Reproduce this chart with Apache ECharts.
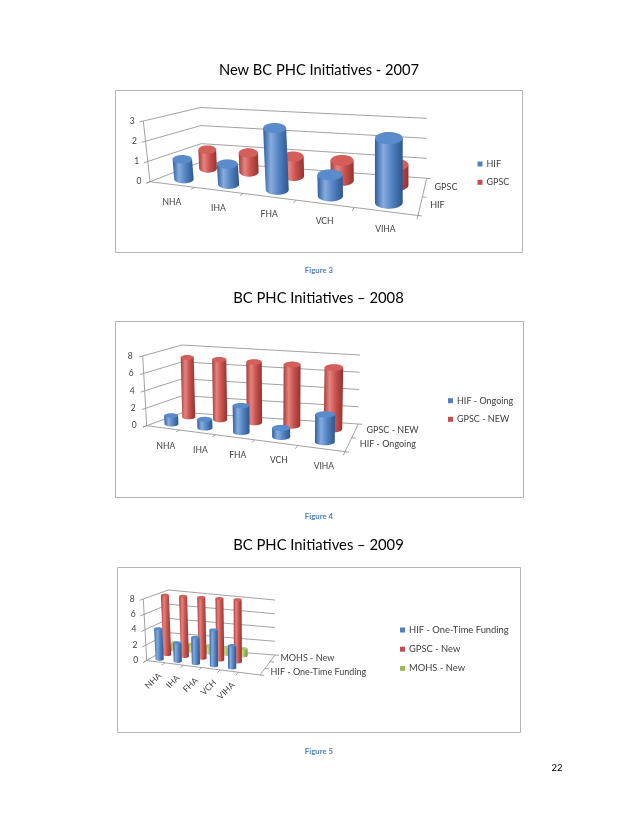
<!DOCTYPE html>
<html>
<head>
<meta charset="utf-8">
<script src="https://cdn.jsdelivr.net/npm/echarts@6/dist/echarts.min.js"></script>
<style>
  html, body { margin: 0; padding: 0; background: #fff; }
  #page { width: 638px; height: 826px; }
</style>
</head>
<body>
<div id="page"></div>
<script>
// ---- data ----
const regions = ['NHA', 'IHA', 'FHA', 'VCH', 'VIHA'];

const ticks2007 = [0, 1, 2, 3];
const hif2007 = [1, 1, 3, 1, 3];
const gpsc2007 = [1, 1, 1, 1, 1];

const ticks2008 = [0, 2, 4, 6, 8];
const hifOngoing2008 = [1, 1, 3, 1, 3];
const gpscNew2008 = [7, 7, 7, 7, 7];

const ticks2009 = [0, 2, 4, 6, 8];
const hifOneTime2009 = [4, 2.4, 3.3, 4.4, 2.7];
const gpscNew2009 = [8, 8, 8, 8, 8];
const mohsNew2009 = [1, 1, 1, 1, 1];

// ---- look ----
const FONT = 'Lato, "Open Sans", sans-serif';
const TEXT = '#404040';
const GRID = '#8a8a8a';
const tones = {
  blue:  { base: '#4F81BD', stops: ['#2f5e9a', '#86acdf', '#5584c2', '#2b5690'], top: '#5a8ccb' },
  red:   { base: '#C0504D', stops: ['#a23d3a', '#e6837f', '#c9534f', '#94312e'], top: '#d35e5a' },
  green: { base: '#9BBB59', stops: ['#7b9a40', '#c3dc8f', '#9ebf5c', '#6f8c37'], top: '#abc96f' }
};

// perspective frame of each plot: floor corners (F = front, B = back) and the matching top corners
const frames = [
  { FL: [150, 181.7], FLt: [143.3, 121], FR: [418, 215.5], FRt: [419, 148.5],
    BL: [201.7, 161.7], BLt: [200.5, 107.5], BR: [426.7, 178.3], BRt: [426.7, 118.3],
    warp: 0.8, span: 1, diam: 0.45, ratioF: 0.42, ratioB: 0.5,
    tickGap: 8.5, catOff: [0, 18], depthOff: [10, -1], rotate: false,
    grid: { left: 150, top: 100, width: 270, height: 80 } },
  { FL: [146.7, 425.7], FLt: [142.7, 356], FR: [345, 451.7], FRt: [346, 376],
    BL: [183, 412.5], BLt: [181.7, 345], BR: [358.3, 424], BRt: [360, 355],
    warp: 0.8, span: 1, diam: 0.43, ratioF: 0.31, ratioB: 0.38,
    tickGap: 10, catOff: [3, 18], depthOff: [11.5, -1], rotate: false,
    grid: { left: 146, top: 340, width: 200, height: 80 } },
  { FL: [146.7, 660.5], FLt: [143.3, 599], FR: [260, 675], FRt: [261, 603],
    BL: [170, 647], BLt: [168.3, 590], BR: [275, 655], BRt: [275, 600],
    warp: 1, span: 0.81, diam: 0.45, ratioF: 0.33, ratioB: 0.4,
    tickGap: 8.5, catOff: [4, 12.5], depthOff: [8, 0], rotate: true,
    grid: { left: 146, top: 590, width: 110, height: 70 } }
];

const specs = [
  { ticks: ticks2007, rows: [
      { name: 'HIF', values: hif2007, tone: 'blue' },
      { name: 'GPSC', values: gpsc2007, tone: 'red' }], depthEvery: 1,
    legend: { left: 477.5, top: 158, gap: 6.3, size: 9 } },
  { ticks: ticks2008, rows: [
      { name: 'HIF - Ongoing', values: hifOngoing2008, tone: 'blue' },
      { name: 'GPSC - NEW', values: gpscNew2008, tone: 'red' }], depthEvery: 1,
    legend: { left: 448, top: 394.7, gap: 6.6, size: 9 } },
  { ticks: ticks2009, rows: [
      { name: 'HIF - One-Time Funding', values: hifOneTime2009, tone: 'blue' },
      { name: 'GPSC - New', values: gpscNew2009, tone: 'red' },
      { name: 'MOHS - New', values: mohsNew2009, tone: 'green' }], depthEvery: 2,
    legend: { left: 400, top: 624, gap: 7.2, size: 9.4 } }
];

// ---- projection helpers ----
function mix(p, q, t) { return [p[0] + (q[0] - p[0]) * t, p[1] + (q[1] - p[1]) * t]; }
function pt(L, u, w, h) {
  const f = mix(mix(L.FL, L.FR, u), mix(L.BL, L.BR, u), w);
  const t = mix(mix(L.FLt, L.FRt, u), mix(L.BLt, L.BRt, u), w);
  return mix(f, t, h);
}
function catU(L, fu) { return L.warp * fu / (1 + (L.warp - 1) * fu) * L.span; }
function dir(a, b) { const l = Math.hypot(b[0] - a[0], b[1] - a[1]) || 1; return [(b[0] - a[0]) / l, (b[1] - a[1]) / l]; }
function seg(a, b, color) {
  return { type: 'line', shape: { x1: a[0], y1: a[1], x2: b[0], y2: b[1] },
           style: { stroke: color || GRID, lineWidth: 0.8 } };
}
function label(text, x, y, align, size) {
  return { type: 'text', style: { text: text, x: x, y: y, align: align, verticalAlign: 'middle',
           fontSize: size || 8.5, fontFamily: FONT, fill: TEXT } };
}
function fracX(cs, px) { return (px - cs.x) / cs.width; }

// value gridlines on left and back walls + value labels
function wallItem(L) {
  return function (params, api) {
    const cs = params.coordSys;
    const v = api.value(1);
    const fh = (cs.y + cs.height - api.coord([0, v])[1]) / cs.height;
    const a = pt(L, 0, 0, fh), b = pt(L, 0, 1, fh), c = pt(L, 1, 1, fh);
    const d = dir(a, b);
    const kids = [seg(a, b), seg(b, c), seg(a, [a[0] - d[0] * 4, a[1] - d[1] * 4]),
                  label(String(v), a[0] - L.tickGap, a[1], 'right')];
    if (params.dataIndex === 0) kids.push(seg(pt(L, 0, 0, 0), pt(L, 0, 0, 1)));
    return { type: 'group', children: kids };
  };
}

// category axis along the front floor edge
function categoryItem(L, cats) {
  return function (params, api) {
    const cs = params.coordSys;
    const c = api.value(0);
    const fu = fracX(cs, api.coord([c, 0])[0]);
    const kids = [];
    const edges = [c - 0.5];
    if (params.dataIndex === cats.length - 1) edges.push(c + 0.5);
    edges.forEach(function (e) {
      const u = catU(L, fracX(cs, api.coord([e, 0])[0]));
      const a = pt(L, u, 0, 0), d = dir(pt(L, u, 1, 0), a);
      kids.push(seg(a, [a[0] + d[0] * 4, a[1] + d[1] * 4]));
    });
    if (params.dataIndex === 0) kids.push(seg(pt(L, 0, 0, 0), pt(L, 1, 0, 0)));
    const p = pt(L, catU(L, fu), 0, 0);
    const x = p[0] + L.catOff[0], y = p[1] + L.catOff[1];
    if (L.rotate) {
      kids.push({ type: 'text', x: x, y: y, rotation: Math.PI / 4,
        style: { text: cats[params.dataIndex], x: 0, y: 0, align: 'right', verticalAlign: 'middle',
                 fontSize: 8.5, fontFamily: FONT, fill: TEXT } });
    } else {
      kids.push(label(cats[params.dataIndex], x, y, 'center'));
    }
    return { type: 'group', children: kids };
  };
}

// depth (series) axis along the right floor edge
function depthItem(L, names, every) {
  return function (params) {
    const i = params.dataIndex, n = names.length;
    const kids = [];
    const ws = [i / n];
    if (i === n - 1) ws.push(1);
    ws.forEach(function (w) {
      const a = pt(L, 1, w, 0), d = dir(pt(L, 0.9, w, 0), a);
      kids.push(seg(a, [a[0] + d[0] * 4, a[1] + d[1] * 4]));
    });
    if (i === 0) kids.push(seg(pt(L, 1, 0, 0), pt(L, 1, 1, 0)));
    if (i % every === 0) {
      const p = pt(L, 1, (i + 0.5) / n, 0);
      kids.push(label(names[i], p[0] + L.depthOff[0], p[1] + L.depthOff[1], 'left', 9));
    }
    return { type: 'group', children: kids };
  };
}

// one cylinder
function cylinderItem(L, row, nRows, tone) {
  const T = tones[tone];
  return function (params, api) {
    const cs = params.coordSys;
    const c = api.value(0), v = api.value(1);
    const p0 = api.coord([c, 0]), p1 = api.coord([c, v]);
    const fu = fracX(cs, p0[0]);
    const fh = (p0[1] - p1[1]) / cs.height;
    const w = (row + 0.5) / nRows;
    const u = catU(L, fu);
    const ua = catU(L, fracX(cs, api.coord([c - 0.5, 0])[0]));
    const ub = catU(L, fracX(cs, api.coord([c + 0.5, 0])[0]));
    const a = pt(L, ua, w, 0), b = pt(L, ub, w, 0);
    const rx = L.diam / 2 * Math.hypot(b[0] - a[0], b[1] - a[1]);
    const ry = rx * (L.ratioF + (L.ratioB - L.ratioF) * w);
    const base = pt(L, u, w, 0), top = pt(L, u, w, fh);
    const body = [[top[0] - rx, top[1]], [base[0] - rx, base[1]]];
    for (let k = 1; k < 24; k++) {
      const t = Math.PI - Math.PI * k / 24;
      body.push([base[0] + rx * Math.cos(t), base[1] + ry * Math.sin(t)]);
    }
    body.push([base[0] + rx, base[1]], [top[0] + rx, top[1]]);
    const cap = [];
    for (let k = 0; k < 40; k++) {
      const t = Math.PI * 2 * k / 40;
      cap.push([top[0] + rx * Math.cos(t), top[1] + ry * Math.sin(t)]);
    }
    const grad = new echarts.graphic.LinearGradient(0, 0, 1, 0, [
      { offset: 0, color: T.stops[0] }, { offset: 0.3, color: T.stops[1] },
      { offset: 0.6, color: T.stops[2] }, { offset: 1, color: T.stops[3] }]);
    return { type: 'group', children: [
      { type: 'polygon', shape: { points: body }, style: { fill: grad } },
      { type: 'polygon', shape: { points: cap }, style: { fill: T.top } }
    ] };
  };
}

// ---- build option ----
const grids = [], xAxes = [], yAxes = [], series = [], legends = [];
specs.forEach(function (s, k) {
  const L = frames[k];
  grids.push(Object.assign({}, L.grid));
  xAxes.push({ gridIndex: k, type: 'value', min: 0, max: regions.length, show: false });
  yAxes.push({ gridIndex: k, type: 'value', min: 0, max: s.ticks[s.ticks.length - 1], show: false });
  const common = { type: 'custom', xAxisIndex: k, yAxisIndex: k, silent: true, clip: false };
  series.push(Object.assign({}, common, { renderItem: wallItem(L), data: s.ticks.map(function (t) { return [0, t]; }) }));
  series.push(Object.assign({}, common, { renderItem: categoryItem(L, regions), data: regions.map(function (r, i) { return [i + 0.5, 0]; }) }));
  const names = s.rows.map(function (r) { return r.name; });
  series.push(Object.assign({}, common, { renderItem: depthItem(L, names, s.depthEvery), data: names.map(function () { return [0, 0]; }) }));
  for (let j = s.rows.length - 1; j >= 0; j--) {
    const r = s.rows[j];
    series.push(Object.assign({}, common, {
      name: r.name, itemStyle: { color: tones[r.tone].base },
      renderItem: cylinderItem(L, j, s.rows.length, r.tone),
      data: r.values.map(function (v, i) { return [i + 0.5, v]; })
    }));
  }
  legends.push({
    data: names, orient: 'vertical', left: s.legend.left, top: s.legend.top, padding: 0,
    icon: 'rect', itemWidth: 5, itemHeight: 5, itemGap: s.legend.gap, selectedMode: false,
    textStyle: { fontSize: s.legend.size, fontFamily: FONT, color: TEXT, lineHeight: 12, padding: [0, 0, 0, -1] }
  });
});

function pageText(text, x, y, size, opts) {
  return Object.assign({ type: 'text', x: x, y: y, silent: true,
    style: Object.assign({ text: text, fontSize: size, fontFamily: FONT, fill: '#000',
      align: 'center', verticalAlign: 'middle' }, opts || {}) });
}
function box(x1, y1, x2, y2) {
  return { type: 'rect', silent: true, shape: { x: x1, y: y1, width: x2 - x1, height: y2 - y1 },
           style: { fill: null, stroke: '#b4b4b4', lineWidth: 1 } };
}
const caption = { fill: '#4F81BD', fontWeight: 'bold' };

const option = {
  animation: false,
  grid: grids, xAxis: xAxes, yAxis: yAxes, legend: legends, series: series,
  graphic: [
    pageText('New BC PHC Initiatives - 2007', 319, 70.5, 14.7),
    box(115.5, 90.5, 522.5, 252.5),
    pageText('Figure 3', 319, 270, 7.8, caption),
    pageText('BC PHC Initiatives \u2013 2008', 318.5, 298.7, 14.8),
    box(115.5, 321.5, 523.5, 497.5),
    pageText('Figure 4', 319, 516.7, 7.8, caption),
    pageText('BC PHC Initiatives \u2013 2009', 318.5, 545, 14.8),
    box(117.5, 567.5, 520.5, 732.5),
    pageText('Figure 5', 319, 751.7, 7.8, caption),
    pageText('22', 551.5, 768, 9.5, { align: 'left' })
  ]
};

const chart = echarts.init(document.getElementById('page'));
chart.setOption(option);
</script>
</body>
</html>
